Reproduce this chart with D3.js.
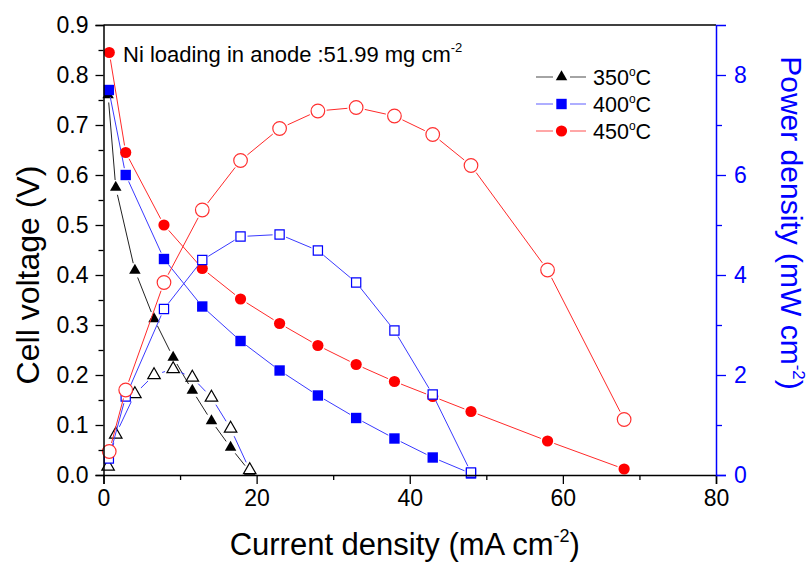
<!DOCTYPE html>
<html>
<head>
<meta charset="utf-8">
<script src="https://cdn.jsdelivr.net/npm/d3@7/dist/d3.min.js"></script>
<style>
  body { margin: 0; background: #fff; }
  svg { display: block; font-family: Arial, "Liberation Sans", sans-serif; }
</style>
</head>
<body>
<svg id="chart" width="807" height="563"></svg>
<script>
// Current density (mA cm^-2), cell voltage (V) and power density (mW cm^-2)
const current350 = [0.6, 1.6, 4.1, 6.6, 9.1, 11.6, 14.1, 16.6, 19.1];
const voltage350 = [0.76, 0.575, 0.409, 0.312, 0.235, 0.169, 0.108, 0.055, 0.007];
const power350   = [0.17, 0.81, 1.62, 2.0, 2.12, 1.95, 1.55, 0.93, 0.10];

const current400 = [0.7, 2.9, 7.9, 12.9, 17.9, 23.0, 28.0, 33.0, 38.0, 43.0, 48.0];
const voltage400 = [0.77, 0.60, 0.432, 0.337, 0.268, 0.209, 0.159, 0.114, 0.073, 0.035, 0.003];
const power400   = [0.33, 1.57, 3.32, 4.30, 4.77, 4.81, 4.49, 3.85, 2.89, 1.61, 0.05];

const current450 = [0.75, 2.9, 7.9, 12.9, 17.9, 23.0, 28.0, 33.0, 38.0, 43.0, 48.0, 58.0, 68.0];
const voltage450 = [0.845, 0.645, 0.50, 0.413, 0.352, 0.303, 0.259, 0.221, 0.187, 0.157, 0.127, 0.068, 0.012];
const power450   = [0.47, 1.70, 3.85, 5.30, 6.29, 6.93, 7.28, 7.35, 7.18, 6.81, 6.19, 4.10, 1.11];

const seriesNames = ["350", "400", "450"];
const xTicks = [0, 20, 40, 60, 80];
const xMinorTicks = [10, 30, 50, 70];
const yTicks = [0, 0.1, 0.2, 0.3, 0.4, 0.5, 0.6, 0.7, 0.8, 0.9];
const yMinorTicks = [0.05, 0.15, 0.25, 0.35, 0.45, 0.55, 0.65, 0.75, 0.85];
const y2Ticks = [0, 2, 4, 6, 8];
const y2MinorTicks = [1, 3, 5, 7];

const annotationText = "Ni loading in anode :51.99 mg cm";
const xTitle = "Current density (mA cm";
const yTitle = "Cell voltage (V)";
const y2Title = "Power density (mW cm";

const svg = d3.select("#chart");
const plotLeft = 103.5, plotRight = 716, plotTop = 25, plotBottom = 475;

const x = d3.scaleLinear().domain([0, 80]).range([plotLeft, plotRight]);
const y = d3.scaleLinear().domain([0, 0.9]).range([plotBottom, plotTop]);
const y2 = d3.scaleLinear().domain([0, 9]).range([plotBottom, plotTop]);

const colors = { "350": "#000000", "400": "#0000ff", "450": "#ff0000" };
const lineColors = { "350": "#222222", "400": "#3a3aff", "450": "#ff2a2a" };
const powerLineColors = { "350": "#3a3aff", "400": "#3a3aff", "450": "#ff2a2a" };
const shapes = { "350": "triangle", "400": "square", "450": "circle" };

function markerPath(shape, open) {
  if (shape === "circle") {
    const r = open ? 6.8 : 5.6;
    return `M${-r},0A${r},${r} 0 1,0 ${r},0A${r},${r} 0 1,0 ${-r},0Z`;
  }
  if (shape === "square") {
    const h = open ? 4.6 : 5.2;
    return `M${-h},${-h}H${h}V${h}H${-h}Z`;
  }
  const s = open ? 12.5 : 11.5;
  const hgt = s * 0.866;
  return `M0,${-hgt * 2 / 3}L${s / 2},${hgt / 3}L${-s / 2},${hgt / 3}Z`;
}
function markerRadius(shape, open) {
  if (shape === "circle") return open ? 6.8 : 5.6;
  if (shape === "square") return open ? 5 : 5.5;
  return open ? 6.5 : 6;
}

// Connecting lines stop short of each marker
function drawLine(g, pts, color, gap) {
  for (let i = 0; i < pts.length - 1; i++) {
    const [x0, y0] = pts[i], [x1, y1] = pts[i + 1];
    const dx = x1 - x0, dy = y1 - y0, len = Math.hypot(dx, dy);
    if (len <= 2 * gap) continue;
    const ux = dx / len, uy = dy / len;
    g.append("line")
      .attr("x1", x0 + ux * gap).attr("y1", y0 + uy * gap)
      .attr("x2", x1 - ux * gap).attr("y2", y1 - uy * gap)
      .attr("stroke", color).attr("stroke-width", 1);
  }
}

const data = {
  "350": { cur: current350, v: voltage350, p: power350 },
  "400": { cur: current400, v: voltage400, p: power400 },
  "450": { cur: current450, v: voltage450, p: power450 }
};

const plot = svg.append("g");

// Voltage curves (filled markers)
seriesNames.forEach(name => {
  const d = data[name];
  const pts = d.cur.map((c, i) => [x(c), y(d.v[i])]);
  const g = plot.append("g");
  drawLine(g, pts, lineColors[name], markerRadius(shapes[name], false) + 1.5);
  g.selectAll("path").data(pts).join("path")
    .attr("transform", p => `translate(${p[0]},${p[1]})`)
    .attr("d", markerPath(shapes[name], false))
    .attr("fill", colors[name]);
});

// Power density curves (open markers)
seriesNames.forEach(name => {
  const d = data[name];
  const pts = d.cur.map((c, i) => [x(c), y2(d.p[i])]);
  const g = plot.append("g");
  drawLine(g, pts, powerLineColors[name], markerRadius(shapes[name], true) + 2);
  g.selectAll("path").data(pts).join("path")
    .attr("transform", p => `translate(${p[0]},${p[1]})`)
    .attr("d", markerPath(shapes[name], true))
    .attr("fill", "#fff")
    .attr("stroke", name === "450" ? "#ff3030" : colors[name])
    .attr("stroke-width", 1.2);
});

// Frame: top border
svg.append("line").attr("x1", plotLeft).attr("x2", plotRight).attr("y1", plotTop).attr("y2", plotTop)
  .attr("stroke", "#000").attr("stroke-width", 1.5);

const tickFont = 23;
const fontStack = "Arial, 'Liberation Sans', sans-serif";

function styleAxis(a, color, size) {
  a.selectAll(".domain").attr("stroke", color).attr("stroke-width", 1.5);
  a.selectAll(".tick line").attr("stroke", color).attr("stroke-width", 1.3);
  a.selectAll(".tick text").attr("font-size", size).attr("fill", color).attr("font-family", fontStack);
}

// Bottom axis
const xAxis = svg.append("g").attr("transform", `translate(0,${plotBottom})`)
  .call(d3.axisBottom(x).tickValues(xTicks).tickSize(9).tickPadding(6).tickFormat(d3.format("d")));
const xMinor = svg.append("g").attr("transform", `translate(0,${plotBottom})`)
  .call(d3.axisBottom(x).tickValues(xMinorTicks).tickSize(5).tickFormat(""));
xMinor.select(".domain").remove();

// Left axis
const yAxis = svg.append("g").attr("transform", `translate(${plotLeft},0)`)
  .call(d3.axisLeft(y).tickValues(yTicks).tickSize(8).tickPadding(7).tickFormat(d3.format(".1f")));
const yMinor = svg.append("g").attr("transform", `translate(${plotLeft},0)`)
  .call(d3.axisLeft(y).tickValues(yMinorTicks).tickSize(5).tickFormat(""));
yMinor.select(".domain").remove();

// Right axis
const y2Axis = svg.append("g").attr("transform", `translate(${plotRight},0)`)
  .call(d3.axisRight(y2).tickValues(y2Ticks).tickSize(10).tickPadding(8).tickFormat(d3.format("d")));
const y2Minor = svg.append("g").attr("transform", `translate(${plotRight},0)`)
  .call(d3.axisRight(y2).tickValues(y2MinorTicks).tickSize(6).tickFormat(""));
y2Minor.select(".domain").remove();

styleAxis(xAxis, "#000", tickFont);
styleAxis(xMinor, "#000", tickFont);
styleAxis(yAxis, "#000", tickFont);
styleAxis(yMinor, "#000", tickFont);
styleAxis(y2Axis, "#0000ff", tickFont);
styleAxis(y2Minor, "#0000ff", tickFont);

// Axis titles
const xt = svg.append("text").attr("x", (plotLeft + plotRight) / 2 - 5).attr("y", 555)
  .attr("text-anchor", "middle").attr("font-size", 31).attr("fill", "#000");
xt.append("tspan").text(xTitle);
xt.append("tspan").attr("font-size", 18).attr("dy", -13).text("-2");
xt.append("tspan").attr("dy", 13).text(")");

svg.append("text").attr("transform", "translate(39,275) rotate(-90)")
  .attr("text-anchor", "middle").attr("font-size", 32).attr("fill", "#000").text(yTitle);

const yt2 = svg.append("text").attr("transform", "translate(781,223) rotate(90)")
  .attr("text-anchor", "middle").attr("font-size", 30).attr("fill", "#0000ff");
yt2.append("tspan").text(y2Title);
yt2.append("tspan").attr("font-size", 17).attr("dy", -12).text("-2");
yt2.append("tspan").attr("dy", 12).text(")");

// Annotation
const ann = svg.append("text").attr("x", 123).attr("y", 61.5).attr("font-size", 22).attr("fill", "#000");
ann.append("tspan").text(annotationText);
ann.append("tspan").attr("font-size", 13).attr("dy", -10).text("-2");

// Legend
const legendRows = [77, 104, 131];
seriesNames.forEach((name, i) => {
  const ly = legendRows[i];
  const g = svg.append("g");
  g.append("line").attr("x1", 536).attr("x2", 553).attr("y1", ly).attr("y2", ly)
    .attr("stroke", lineColors[name]).attr("stroke-opacity", 0.55).attr("stroke-width", 1.5);
  g.append("line").attr("x1", 570).attr("x2", 586).attr("y1", ly).attr("y2", ly)
    .attr("stroke", lineColors[name]).attr("stroke-opacity", 0.55).attr("stroke-width", 1.5);
  g.append("path").attr("transform", `translate(561.5,${ly})`)
    .attr("d", markerPath(shapes[name], false)).attr("fill", colors[name]);
  const t = g.append("text").attr("x", 593).attr("y", ly + 7.5).attr("font-size", 21.5).attr("fill", "#000");
  t.append("tspan").text(name);
  t.append("tspan").attr("font-size", 12).attr("dy", -9).text("o");
  t.append("tspan").attr("dy", 9).text("C");
});
</script>
</body>
</html>
